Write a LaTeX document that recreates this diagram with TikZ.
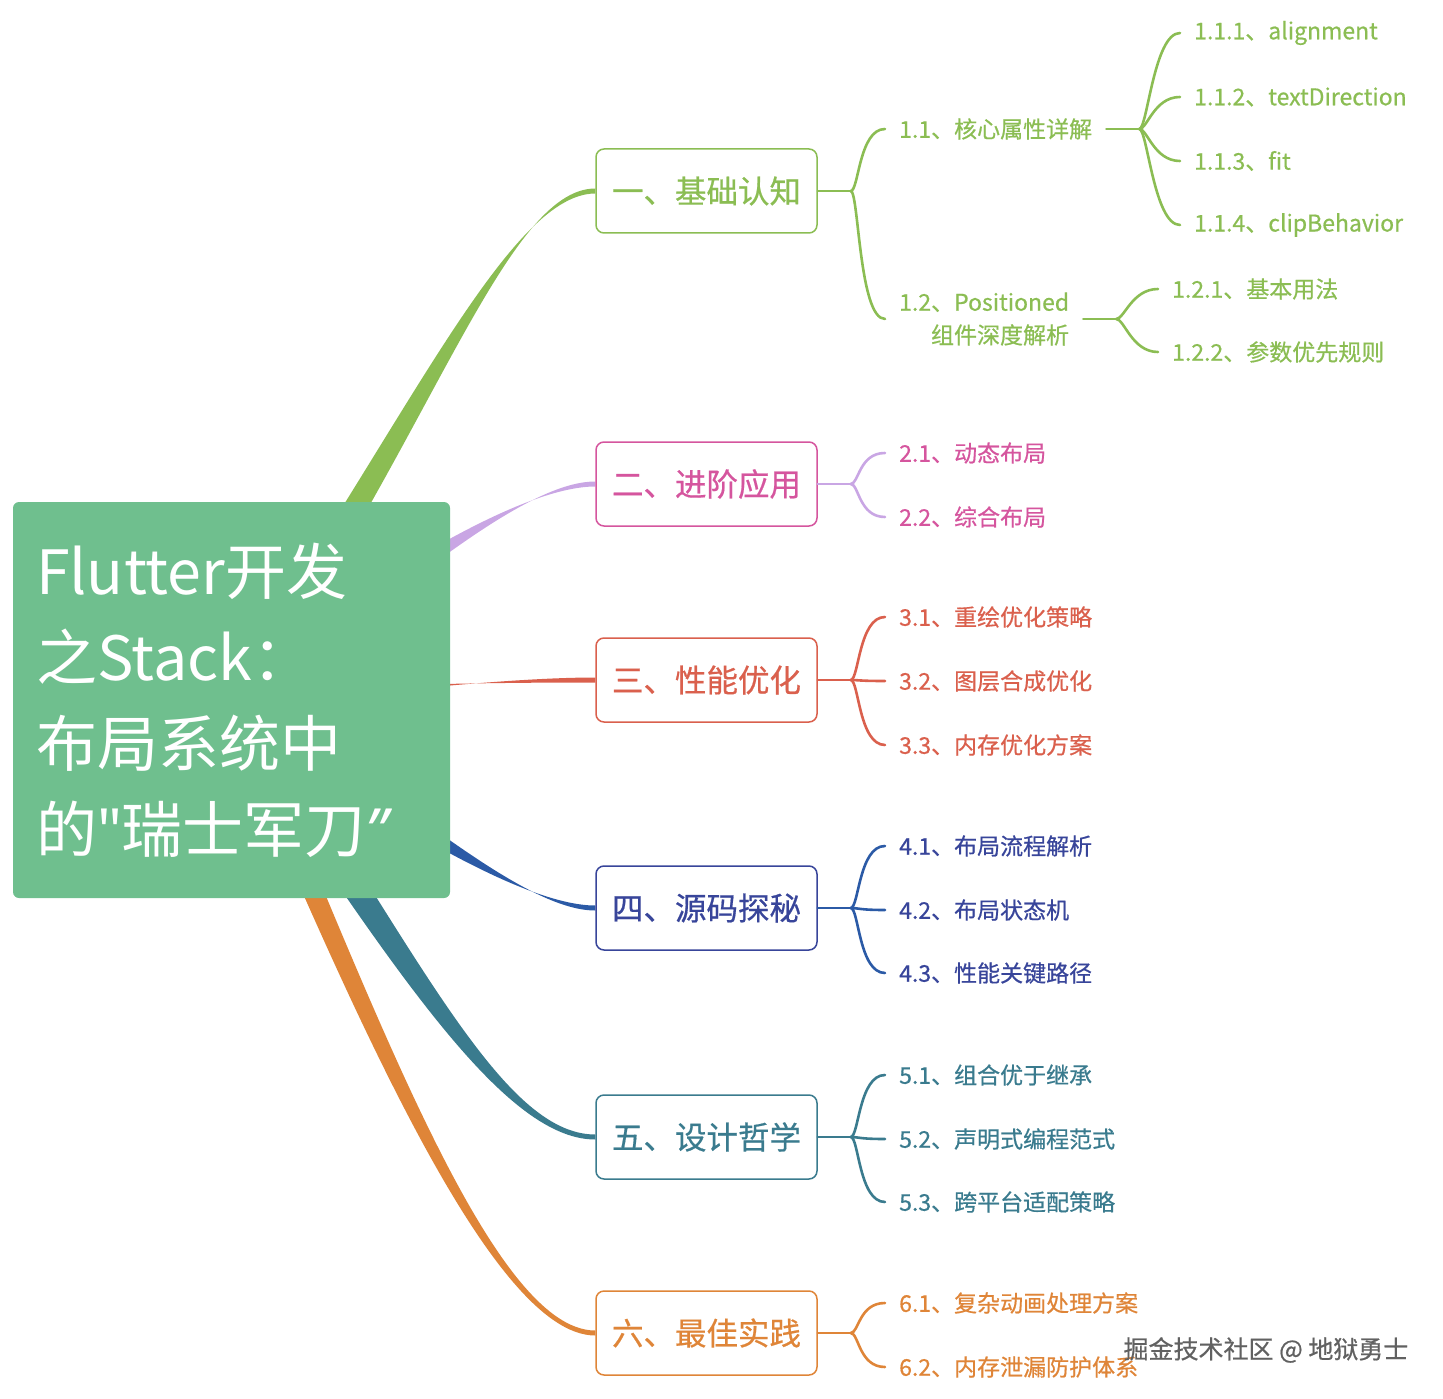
\documentclass[tikz,border=0pt]{standalone}
\usepackage{fontspec}
\setmainfont{Noto Sans CJK SC}
\newfontfamily\heavyfont[FakeBold=0.6]{Noto Sans CJK SC}
\newfontfamily\quotefont{Noto Sans}
\usepackage{tikz}
\usetikzlibrary{calc,backgrounds}

\definecolor{rootgreen}{HTML}{6FBF8E}
\definecolor{cgreen}{HTML}{8BBD53}
\definecolor{lpurple}{HTML}{C9A6E4}
\definecolor{cpink}{HTML}{D5559E}
\definecolor{cred}{HTML}{DA604D}
\definecolor{lblue}{HTML}{2B5AA6}
\definecolor{cblue}{HTML}{38459A}
\definecolor{cteal}{HTML}{3A7B8E}
\definecolor{corange}{HTML}{DF8538}

% tapered branch: colour, target, control 1, control 2, half width
\newcommand{\tbranch}[5]{%
  \fill[#1] ($(root.center)+#5$) .. controls ($#3+#5$) and ($#4+(0,-2.5)$) .. ($(#2.west)+(0,-2.5)$)
    -- ($(#2.west)+(0,2.5)$) .. controls ($#4+(0,2.5)$) and ($#3-#5$) .. ($(root.center)-#5$) -- cycle;}
% fork: colour, parent, children
\newcommand{\forkto}[3]{%
  \draw[subline,#1] (#2.east) -- ++(33,0) coordinate (#2f);
  \foreach \c in {#3} \draw[subline,#1] (#2f) .. controls +(8,0) and +(-26,0) .. (\c.west);}

\begin{document}
\begin{tikzpicture}[x=1pt,y=-1pt]
  \tikzstyle{rootbox}=[fill=rootgreen, text=white, rounded corners=6pt, minimum width=437pt, minimum height=396pt,
    inner xsep=23pt, text width=391pt, align=left, font=\fontsize{61}{86}\selectfont]
  \tikzstyle{mainbox}=[fill=white, line width=1.5pt, rounded corners=8pt, minimum width=221pt, minimum height=84pt,
    font=\heavyfont\fontsize{31.5}{36}\selectfont]
  \tikzstyle{leaf}=[anchor=west, inner xsep=14pt, inner ysep=2pt, font=\heavyfont\fontsize{23}{33}\selectfont]
  \tikzstyle{subline}=[line width=2.6pt, line cap=round]

  \useasboundingbox (0,0) rectangle (1443,1399);

  \node[rootbox] (root) at (231.5,700) {Flutter开发\\之Stack：\\布局系统中\\的{\quotefont"}瑞士军刀{\quotefont\itshape ”}};

  \node[mainbox, draw=cgreen, text=cgreen]   (b1) at (706.5,191)  {一、基础认知};
  \node[mainbox, draw=cpink, text=cpink]     (b2) at (706.5,484)  {二、进阶应用};
  \node[mainbox, draw=cred, text=cred]       (b3) at (706.5,680)  {三、性能优化};
  \node[mainbox, draw=cblue, text=cblue]     (b4) at (706.5,908)  {四、源码探秘};
  \node[mainbox, draw=cteal, text=cteal]     (b5) at (706.5,1137) {五、设计哲学};
  \node[mainbox, draw=corange, text=corange] (b6) at (706.5,1333) {六、最佳实践};

  \node[leaf, text=cgreen] (b11) at (885,129) {1.1、核心属性详解};
  \node[leaf, text=cgreen, align=right] (b12) at (885,319) {1.2、Positioned\\组件深度解析};
  \node[leaf, text=cgreen] (b111) at (1180,33)  {1.1.1、alignment};
  \node[leaf, text=cgreen] (b112) at (1180,97)  {1.1.2、textDirection};
  \node[leaf, text=cgreen] (b113) at (1180,161) {1.1.3、fit};
  \node[leaf, text=cgreen] (b114) at (1180,225) {1.1.4、clipBehavior};
  \node[leaf, text=cgreen] (b121) at (1158,289) {1.2.1、基本用法};
  \node[leaf, text=cgreen] (b122) at (1158,352) {1.2.2、参数优先规则};

  \node[leaf, text=cpink] (b21) at (885,453) {2.1、动态布局};
  \node[leaf, text=cpink] (b22) at (885,517) {2.2、综合布局};

  \node[leaf, text=cred] (b31) at (885,617) {3.1、重绘优化策略};
  \node[leaf, text=cred] (b32) at (885,681) {3.2、图层合成优化};
  \node[leaf, text=cred] (b33) at (885,745) {3.3、内存优化方案};

  \node[leaf, text=cblue] (b41) at (885,846) {4.1、布局流程解析};
  \node[leaf, text=cblue] (b42) at (885,910) {4.2、布局状态机};
  \node[leaf, text=cblue] (b43) at (885,973) {4.3、性能关键路径};

  \node[leaf, text=cteal] (b51) at (885,1075) {5.1、组合优于继承};
  \node[leaf, text=cteal] (b52) at (885,1139) {5.2、声明式编程范式};
  \node[leaf, text=cteal] (b53) at (885,1202) {5.3、跨平台适配策略};

  \node[leaf, text=corange] (b61) at (885,1303) {6.1、复杂动画处理方案};
  \node[leaf, text=corange] (b62) at (885,1367) {6.2、内存泄漏防护体系};

  \node[anchor=west, text=black!62, font=\heavyfont\fontsize{25}{30}\selectfont] (mark) at (1120,1350) {掘金技术社区 @ 地狱勇士};

  \begin{scope}[on background layer]
    \tbranch{cgreen}{b1}{(413,444)}{(505,191)}{(16,0)}
    \tbranch{lpurple}{b2}{(380,590)}{(520,484)}{(8,12)}
    \tbranch{cred}{b3}{(350,690)}{(500,680)}{(0,6)}
    \tbranch{lblue}{b4}{(380,800)}{(520,908)}{(-8,12)}
    \tbranch{cteal}{b5}{(400,950)}{(500,1137)}{(15,-5)}
    \tbranch{corange}{b6}{(360,1000)}{(490,1333)}{(11,-3)}
  \end{scope}

  \forkto{cgreen}{b1}{b11,b12}
  \forkto{cgreen}{b11}{b111,b112,b113,b114}
  \forkto{cgreen}{b12}{b121,b122}
  \forkto{lpurple}{b2}{b21,b22}
  \forkto{cred}{b3}{b31,b32,b33}
  \forkto{lblue}{b4}{b41,b42,b43}
  \forkto{cteal}{b5}{b51,b52,b53}
  \forkto{corange}{b6}{b61,b62}
\end{tikzpicture}
\end{document}
